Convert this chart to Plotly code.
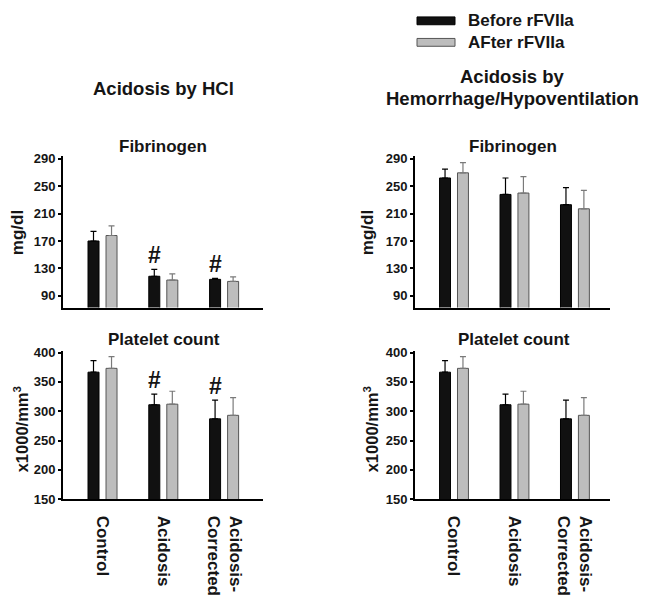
import plotly.graph_objects as go

# ---------------- data ----------------
categories = ["Control", "Acidosis", "Acidosis-<br>Corrected"]

# Fibrinogen (mg/dl) - Acidosis by HCl
fib_hcl_before = [170, 118.5, 114]
fib_hcl_before_err = [14, 10, 1.5]
fib_hcl_after = [178, 113, 111]
fib_hcl_after_err = [14, 9, 6.5]

# Fibrinogen (mg/dl) - Acidosis by Hemorrhage/Hypoventilation
fib_hem_before = [262, 238, 223]
fib_hem_before_err = [13, 24, 25]
fib_hem_after = [269.5, 240, 217]
fib_hem_after_err = [15, 24, 27]

# Platelet count (x1000/mm3) - Acidosis by HCl
plt_hcl_before = [366.5, 311, 287]
plt_hcl_before_err = [19.5, 18, 32]
plt_hcl_after = [373, 312, 293]
plt_hcl_after_err = [20, 22, 30]

# Platelet count (x1000/mm3) - Acidosis by Hemorrhage/Hypoventilation
plt_hem_before = [366.5, 311, 287]
plt_hem_before_err = [19.5, 18, 32]
plt_hem_after = [373, 312, 293]
plt_hem_after_err = [20, 22, 30]

# significance markers (index of category, on "Before" bar)
sig_hcl_fib = [1, 2]
sig_hcl_plt = [1, 2]

fib_ticks = [90, 130, 170, 210, 250, 290]
plt_ticks = [150, 200, 250, 300, 350, 400]

series_names = ["Before rFVIIa", "AFter rFVIIa"]

# ---------------- style ----------------
OFF = 8               # page body margin offset (px)
W, H = 650 - OFF, 611 - OFF
FONT = "Liberation Sans, Arial, sans-serif"
TXT = "#151515"
BLACK = "#111111"
GRAY = "#bdbdbd"
GRAY_LINE = "#555555"
GRAY_ERR = "#7a7a7a"


def px_x(p):
    return (p - OFF) / W


def px_y(p):
    return 1 - (p - OFF) / H


fig = go.Figure()

panels = [
    ("x", "y", fib_hcl_before, fib_hcl_before_err, fib_hcl_after, fib_hcl_after_err),
    ("x2", "y2", fib_hem_before, fib_hem_before_err, fib_hem_after, fib_hem_after_err),
    ("x3", "y3", plt_hcl_before, plt_hcl_before_err, plt_hcl_after, plt_hcl_after_err),
    ("x4", "y4", plt_hem_before, plt_hem_before_err, plt_hem_after, plt_hem_after_err),
]

for xa, ya, b, be, a, ae in panels:
    fig.add_trace(go.Bar(
        x=categories, y=b, xaxis=xa, yaxis=ya, name=series_names[0],
        marker=dict(color=BLACK, line=dict(color="#000000", width=1)),
        error_y=dict(type="data", array=be, arrayminus=[0] * len(be), symmetric=False,
                     color="#000000", thickness=1.2, width=3),
        showlegend=False,
    ))
    fig.add_trace(go.Bar(
        x=categories, y=a, xaxis=xa, yaxis=ya, name=series_names[1],
        marker=dict(color=GRAY, line=dict(color=GRAY_LINE, width=1)),
        error_y=dict(type="data", array=ae, arrayminus=[0] * len(ae), symmetric=False,
                     color=GRAY_ERR, thickness=1.2, width=3),
        showlegend=False,
    ))

# axis geometry (reference pixels)
left_x = (63, 263)
right_x = (415, 610)
top_y = (154, 309)
bot_y = (353, 505)

xrange_left = [-0.65, 2.64]
xrange_right = [-0.645, 2.58]
fib_range = [72.9, 294.3]
plt_range = [150, 403.3]

tickfont = dict(family=FONT, size=13, color=TXT, weight="bold")
catfont = dict(family=FONT, size=17, color=TXT, weight="bold")

common_x = dict(type="category", showline=True, linecolor="#000000", linewidth=2,
                ticks="", showgrid=False, zeroline=False, fixedrange=True)
common_y = dict(showline=True, linecolor="#000000", linewidth=2, ticks="outside",
                ticklen=3, tickwidth=1.5, tickcolor="#000000", showgrid=False,
                zeroline=False, tickfont=tickfont, fixedrange=True)

layout_axes = {
    "xaxis": dict(common_x, domain=[px_x(left_x[0]), px_x(left_x[1])], range=xrange_left,
                  anchor="y", showticklabels=False),
    "xaxis2": dict(common_x, domain=[px_x(right_x[0]), px_x(right_x[1])], range=xrange_right,
                   anchor="y2", showticklabels=False),
    "xaxis3": dict(common_x, domain=[px_x(left_x[0]), px_x(left_x[1])], range=xrange_left,
                   anchor="y3", showticklabels=True, tickangle=90, tickfont=catfont,
                   ticklabelstandoff=11),
    "xaxis4": dict(common_x, domain=[px_x(right_x[0]), px_x(right_x[1])], range=xrange_right,
                   anchor="y4", showticklabels=True, tickangle=90, tickfont=catfont,
                   ticklabelstandoff=11),
    "yaxis": dict(common_y, domain=[px_y(top_y[1]), px_y(top_y[0])], range=fib_range,
                  tickvals=fib_ticks, anchor="x"),
    "yaxis2": dict(common_y, domain=[px_y(top_y[1]), px_y(top_y[0])], range=fib_range,
                   tickvals=fib_ticks, anchor="x2"),
    "yaxis3": dict(common_y, domain=[px_y(bot_y[1]), px_y(bot_y[0])], range=plt_range,
                   tickvals=plt_ticks, anchor="x3"),
    "yaxis4": dict(common_y, domain=[px_y(bot_y[1]), px_y(bot_y[0])], range=plt_range,
                   tickvals=plt_ticks, anchor="x4"),
}

annotations = []


def ann(text, x, y, size, xanchor="center", yanchor="middle", angle=0):
    annotations.append(dict(
        text=text, x=px_x(x), y=px_y(y), xref="paper", yref="paper",
        xanchor=xanchor, yanchor=yanchor, showarrow=False, textangle=angle,
        font=dict(family=FONT, size=size, color=TXT, weight="bold"),
    ))


# column headings
ann("Acidosis by HCl", 163, 85, 18.5)
ann("Acidosis by", 512, 73, 18.5)
ann("Hemorrhage/Hypoventilation", 512, 95, 18.5)

# panel titles
ann("Fibrinogen", 163, 144, 17)
ann("Fibrinogen", 513, 144, 17)
ann("Platelet count", 164, 342, 17)
ann("Platelet count", 514, 342, 17)

# y axis titles
ann("mg/dl", 17, 233, 17, angle=-90)
ann("mg/dl", 367, 233, 17, angle=-90)
ann("x1000/mm<sup>3</sup>", 8.5, 434, 16.5, xanchor="left", angle=-90)
ann("x1000/mm<sup>3</sup>", 358.5, 434, 16.5, xanchor="left", angle=-90)

# legend
legend_items = [(series_names[0], BLACK, "#000000", 16), (series_names[1], GRAY, GRAY_LINE, 38)]
shapes = []
for name, fc, lc, yc in legend_items:
    shapes.append(dict(type="rect", xref="paper", yref="paper",
                       x0=px_x(417), x1=px_x(455), y0=px_y(yc + 4), y1=px_y(yc - 4),
                       fillcolor=fc, line=dict(color=lc, width=1)))
    ann(name, 466, yc, 17, xanchor="left")

# significance markers
bar_off = -0.148  # offset of "Before" bar within group (category units)
for idx in sig_hcl_fib:
    annotations.append(dict(
        text="#", x=idx + bar_off, y=fib_hcl_before[idx] + fib_hcl_before_err[idx],
        xref="x", yref="y", xanchor="center", yanchor="middle", yshift=14,
        showarrow=False, font=dict(family=FONT, size=23, color=TXT, weight="bold")))
for idx in sig_hcl_plt:
    annotations.append(dict(
        text="#", x=idx + bar_off, y=plt_hcl_before[idx] + plt_hcl_before_err[idx],
        xref="x3", yref="y3", xanchor="center", yanchor="middle", yshift=14,
        showarrow=False, font=dict(family=FONT, size=23, color=TXT, weight="bold")))

fig.update_layout(
    width=W, height=H,
    margin=dict(l=0, r=0, t=0, b=0),
    paper_bgcolor="white", plot_bgcolor="white",
    barmode="group", bargap=0.407, bargroupgap=0.389,
    annotations=annotations, shapes=shapes,
    showlegend=False,
    font=dict(family=FONT, color=TXT),
    **layout_axes,
)

fig.write_html("out.html")
